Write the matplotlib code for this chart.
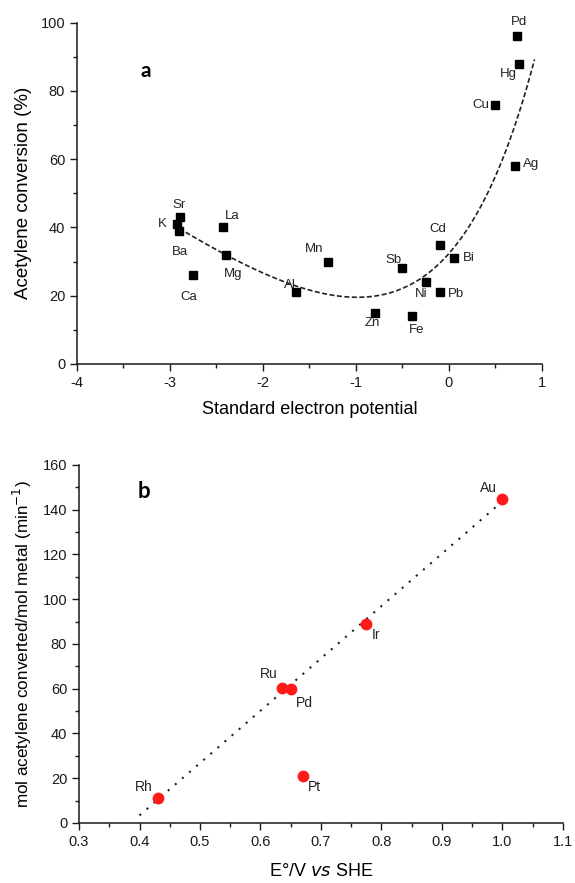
import numpy as np
import matplotlib
matplotlib.use('Agg')
import matplotlib.pyplot as plt
from matplotlib.ticker import MultipleLocator

plt.rcParams['font.family'] = ['Liberation Sans', 'DejaVu Sans']
plt.rcParams['axes.unicode_minus'] = False

# (a) acetylene conversion vs standard electrode potential
metals_a = ['Pd', 'Hg', 'Cu', 'Ag', 'Cd', 'Bi', 'Ni', 'Pb', 'Sb', 'Fe',
            'Zn', 'Mn', 'Al', 'La', 'Mg', 'Ca', 'Sr', 'K', 'Ba']
potential_a = [0.73, 0.75, 0.50, 0.71, -0.10, 0.05, -0.25, -0.10, -0.50, -0.40,
               -0.80, -1.30, -1.65, -2.43, -2.40, -2.75, -2.89, -2.92, -2.90]
conversion_a = [96, 88, 76, 58, 35, 31, 24, 21, 28, 14,
                15, 30, 21, 40, 32, 26, 43, 41, 39]
trend_skip_a = ['Pd', 'Hg']  # left out of the trend fit

# (b) turnover vs E0 for noble metals
metals_b = ['Au', 'Ir', 'Ru', 'Pd', 'Pt', 'Rh']
potential_b = [1.00, 0.775, 0.635, 0.65, 0.67, 0.43]
rate_b = [145, 89, 60.5, 60, 21, 11]
trend_skip_b = ['Pt']  # left out of the linear fit

# label offsets in pixels
off_a = {'Pd': (2, 14), 'Hg': (-10, -10), 'Cu': (-15, 0), 'Ag': (16, 2),
         'Cd': (-2, 16), 'Bi': (15, 0), 'Ni': (-5, -12), 'Pb': (16, -2),
         'Sb': (-9, 8), 'Fe': (5, -14), 'Zn': (-2, -10), 'Mn': (-14, 13),
         'Al': (-6, 7), 'La': (9, 11), 'Mg': (7, -19), 'Ca': (-4, -22),
         'Sr': (-1, 12), 'K': (-15, 0), 'Ba': (1, -21)}
off_b = {'Au': (-14, 11), 'Ir': (10, -11), 'Ru': (-13, 14), 'Pd': (14, -14),
         'Pt': (12, -11), 'Rh': (-14, 11)}


def fit_exp_lin(x, y):
    # y = a + b*x + c*exp(k*x), k picked by a grid search
    best = None
    for k in np.linspace(0.3, 8, 300):
        A = np.c_[np.ones_like(x), x, np.exp(k * x)]
        p, *_ = np.linalg.lstsq(A, y, rcond=None)
        res = np.sum((A @ p - y) ** 2)
        if best is None or res < best[0]:
            best = (res, k, p)
    _, k, p = best
    return lambda t: p[0] + p[1] * t + p[2] * np.exp(k * t)


def style_axes(ax):
    ax.spines['top'].set_visible(False)
    ax.spines['right'].set_visible(False)
    for s in ['left', 'bottom']:
        ax.spines[s].set_linewidth(1.1)
        ax.spines[s].set_color('#1a1a1a')
    ax.tick_params(which='major', direction='out', length=5, width=1.0, labelsize=10.5,
                   color='#1a1a1a', labelcolor='#1a1a1a')
    ax.tick_params(which='minor', direction='out', length=3, width=1.0, color='#1a1a1a')


fig = plt.figure(figsize=(5.75, 8.83), dpi=100)

ax1 = fig.add_axes([0.1339, 0.5878, 0.8087, 0.3865])
xa = np.array(potential_a)
ya = np.array(conversion_a)
keep = np.array([m not in trend_skip_a for m in metals_a])
trend = fit_exp_lin(xa[keep], ya[keep])
xs = np.linspace(-2.9, 0.92, 200)
ax1.plot(xs, trend(xs), ls=(0, (3, 1.5)), lw=1.2, color='#222222')
ax1.plot(xa, ya, 's', ms=6, color='black', clip_on=False)
for m, x, y in zip(metals_a, potential_a, conversion_a):
    ax1.annotate(m, (x, y), xytext=off_a[m], textcoords='offset pixels',
                 ha='center', va='center', fontsize=9.5, color='#222222')
ax1.set_xlim(-4, 1)
ax1.set_ylim(0, 100)
ax1.xaxis.set_major_locator(MultipleLocator(1))
ax1.xaxis.set_minor_locator(MultipleLocator(0.5))
ax1.yaxis.set_major_locator(MultipleLocator(20))
ax1.yaxis.set_minor_locator(MultipleLocator(10))
style_axes(ax1)
ax1.set_xlabel('Standard electron potential', fontsize=13, labelpad=8)
ax1.set_ylabel('Acetylene conversion (%)', fontsize=13.5, labelpad=6)
ax1.text(0.148, 0.858, 'a', transform=ax1.transAxes, fontsize=15,
         fontweight='bold', family='Lato', ha='center', va='center')

ax2 = fig.add_axes([0.1374, 0.0680, 0.8417, 0.4054])
fx = [x for m, x in zip(metals_b, potential_b) if m not in trend_skip_b]
fy = [y for m, y in zip(metals_b, rate_b) if m not in trend_skip_b]
k, b = np.polyfit(fx, fy, 1)
xl = np.linspace(0.40, 1.0, 50)
ax2.plot(xl, k * xl + b, ls=(0, (1, 3.5)), lw=1.5, color='#222222')
ax2.plot(potential_b, rate_b, 'o', ms=7.5, color='#ff1a1a', clip_on=False)
for m, x, y in zip(metals_b, potential_b, rate_b):
    ax2.annotate(m, (x, y), xytext=off_b[m], textcoords='offset pixels',
                 ha='center', va='center', fontsize=10, color='#222222')
ax2.set_xlim(0.3, 1.1)
ax2.set_ylim(0, 160)
ax2.xaxis.set_major_locator(MultipleLocator(0.1))
ax2.xaxis.set_minor_locator(MultipleLocator(0.05))
ax2.yaxis.set_major_locator(MultipleLocator(20))
ax2.yaxis.set_minor_locator(MultipleLocator(10))
style_axes(ax2)
ax2.set_xlabel(r'E°/V $\it{vs}$ SHE', fontsize=13, labelpad=10)
ax2.set_ylabel(r'mol acetylene converted/mol metal (min$^{-1}$)', fontsize=12.3, labelpad=6)
ax2.text(0.135, 0.925, 'b', transform=ax2.transAxes, fontsize=16,
         fontweight='bold', family='Lato', ha='center', va='center')

fig.savefig('out.png', dpi=100)
